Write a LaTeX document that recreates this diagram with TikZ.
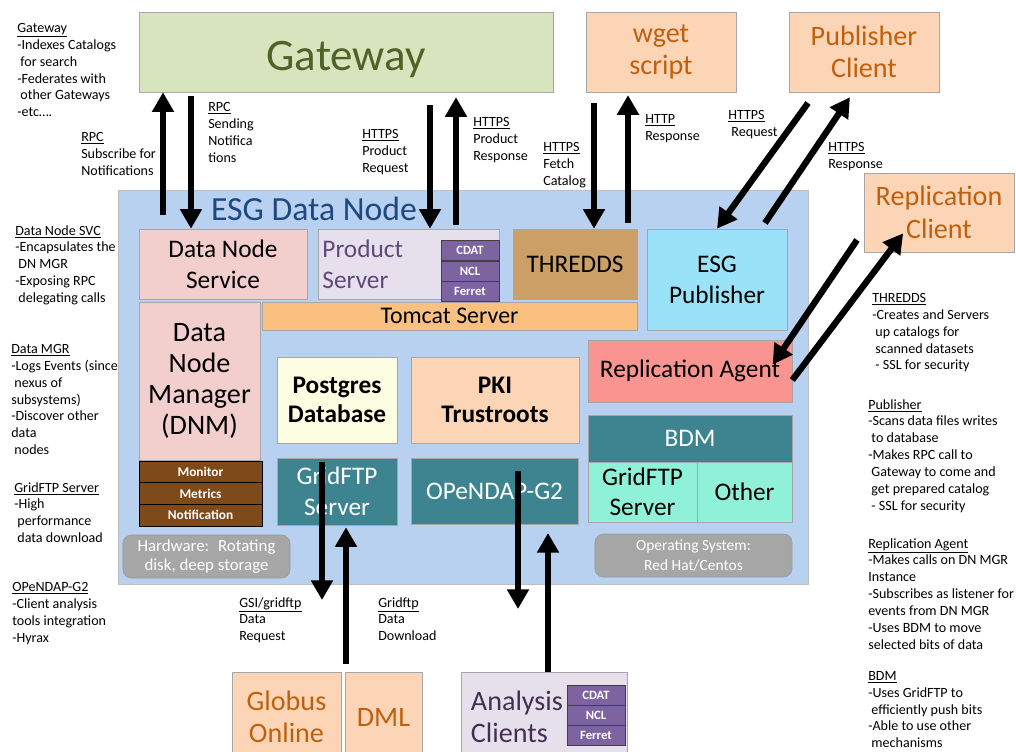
\documentclass[tikz,border=0pt]{standalone}
\usepackage{fontspec}
\setmainfont{Carlito}
\usepackage{xcolor}
\usepackage{tikz}
\usetikzlibrary{positioning}
\usetikzlibrary{shapes,arrows.meta}
\definecolor{gwgreen}{HTML}{D7E4BD}
\definecolor{gwtext}{HTML}{4F6228}
\definecolor{peach}{HTML}{FBD5B5}
\definecolor{peachtext}{HTML}{C0600E}
\definecolor{nodeblue}{HTML}{B9D1F0}
\definecolor{nodetext}{HTML}{1F497D}
\definecolor{svcpink}{HTML}{F2CFCD}
\definecolor{prodlav}{HTML}{E6E0EC}
\definecolor{prodtext}{HTML}{5F497A}
\definecolor{anatext}{HTML}{403152}
\definecolor{toolpurple}{HTML}{7D63A0}
\definecolor{thrtan}{HTML}{CC9F66}
\definecolor{pubcyan}{HTML}{9AE2F8}
\definecolor{tomorange}{HTML}{FAC080}
\definecolor{metbrown}{HTML}{7F4A1A}
\definecolor{pgcream}{HTML}{FDFDE2}
\definecolor{repsalmon}{HTML}{FA9490}
\definecolor{bdmteal}{HTML}{3E8490}
\definecolor{aqua}{HTML}{8FF2D8}
\definecolor{hwgray}{HTML}{A6A6A6}
\tikzstyle{block} = [rectangle, draw=black!35, align=center, inner sep=0pt]
\tikzstyle{note} = [anchor=north west, align=left, inner sep=0pt, font=\fontsize{10}{12}\selectfont]
\tikzstyle{arrow} = [draw, line width=4.5pt, -{Triangle[width=15pt,length=14pt]}]
\tikzstyle{tool} = [block, fill=toolpurple, draw=black!75, text=white, font=\bfseries\fontsize{9}{10}\selectfont, minimum width=1.45cm, minimum height=0.51cm]
\tikzstyle{meter} = [block, fill=metbrown, draw=black, text=white, font=\bfseries\fontsize{9.5}{10}\selectfont, minimum width=3.075cm, minimum height=0.54cm]
\tikzstyle{hwbox} = [block, rounded corners=6pt, fill=hwgray, draw=black!40, text=white]
\tikzstyle{client} = [block, fill=peach, text=peachtext, font=\fontsize{20}{23}\selectfont]

\begin{document}
\begin{tikzpicture}[x=0.025cm, y=-0.025cm]
\useasboundingbox (0,0) rectangle (1016,751);

%% outside boxes
\node [block, fill=gwgreen, text=gwtext, font=\fontsize{32}{36}\selectfont, text height=27pt, text depth=0pt, minimum width=10.35cm, minimum height=2cm] at (346,52) (gw) {Gateway};
\node [client, minimum width=3.75cm, minimum height=2cm] at (661,52) (wget) {wget\\script};
\node [client, minimum width=3.75cm, minimum height=2cm] at (864,52) (pubc) {Publisher\\Client};
\node [client, minimum width=3.75cm, minimum height=1.975cm] at (939,212.5) (repc) {Replication\\Client};

%% data node
\node [block, fill=nodeblue, draw=black!25, minimum width=17.25cm, minimum height=9.85cm] at (463,387) (esg) {};
\node [text=nodetext, font=\fontsize{24}{28}\selectfont] at (314,209) (esglabel) {ESG Data Node};

\node [block, fill=svcpink, font=\fontsize{18}{22}\selectfont, minimum width=4.2cm, minimum height=1.75cm] at (223,264) (dns) {Data Node\\Service};
\node [block, fill=prodlav, text=prodtext, font=\fontsize{18}{22}\selectfont, minimum width=4.525cm, minimum height=1.75cm, text width=4.3cm, align=left] at (408.5,264) (prod) {Product\\Server};
\node [tool] at (470,250.5) (cdat) {CDAT};
\node [tool] at (470,271) (ncl) {NCL};
\node [tool] at (470,291.5) (ferret) {Ferret};
\node [block, fill=thrtan, font=\fontsize{18}{22}\selectfont, minimum width=3.1cm, minimum height=1.75cm] at (575,264) (thr) {THREDDS};
\node [block, fill=pubcyan, font=\fontsize{18}{22}\selectfont, minimum width=3.5cm, minimum height=2.525cm] at (717,279.5) (pub) {ESG\\Publisher};
\node [block, fill=tomorange, font=\fontsize{17}{20}\selectfont, minimum width=9.375cm, minimum height=0.7cm] at (449.5,316) (tom) {Tomcat Server};

\node [block, fill=svcpink, font=\fontsize{20}{22}\selectfont, minimum width=3.025cm, minimum height=3.95cm] at (199.5,381) (dnm) {Data\\Node\\Manager\\(DNM)};
\node [meter] at (200.5,472) (monitor) {Monitor};
\node [meter] at (200.5,493.5) (metrics) {Metrics};
\node [meter] at (200.5,515) (notif) {Notification};

\node [block, fill=pgcream, font=\bfseries\fontsize{18}{21}\selectfont, minimum width=3cm, minimum height=2.15cm] at (337,400) (pg) {Postgres\\Database};
\node [block, fill=peach, font=\bfseries\fontsize{18}{21}\selectfont, minimum width=4.2cm, minimum height=2.15cm] at (495,400) (pki) {PKI\\Trustroots};
\node [block, fill=repsalmon, font=\fontsize{18}{22}\selectfont, minimum width=5.1cm, minimum height=1.55cm] at (690,371) (repa) {Replication Agent};
\node [block, fill=bdmteal, text=white, font=\fontsize{18}{22}\selectfont, minimum width=5.1cm, minimum height=1.175cm] at (690,438.5) (bdm) {BDM};
\node [block, fill=aqua, font=\fontsize{18}{21}\selectfont, minimum width=2.725cm, minimum height=1.5cm] at (642.5,492) (bgf) {GridFTP\\Server};
\node [block, fill=aqua, font=\fontsize{18}{21}\selectfont, minimum width=2.375cm, minimum height=1.5cm] at (744.5,492) (other) {Other};
\node [block, fill=bdmteal, text=white, font=\fontsize{18}{22}\selectfont, minimum width=3cm, minimum height=1.675cm] at (337,491.5) (gfs) {GridFTP\\Server};
\node [block, fill=bdmteal, text=white, font=\fontsize{18}{22}\selectfont, minimum width=4.175cm, minimum height=1.65cm] at (494.5,491) (opd) {OPeNDAP-G2};
\node [hwbox, font=\fontsize{12}{14}\selectfont, minimum width=4.175cm, minimum height=1.075cm] at (206.5,556.5) (hw) {Hardware:~ Rotating\\disk, deep storage};
\node [hwbox, font=\fontsize{11}{14}\selectfont, minimum width=4.925cm, minimum height=1.075cm] at (693.5,555.5) (os) {Operating System:\\Red Hat/Centos};

%% bottom clients
\node [client, minimum width=2.725cm, minimum height=2.25cm] at (286.5,717) (glob) {Globus\\Online};
\node [client, minimum width=1.925cm, minimum height=2.25cm] at (383.5,717) (dml) {DML};
\node [block, fill=prodlav, text=anatext, font=\fontsize{20}{23}\selectfont, minimum width=4.15cm, minimum height=2.25cm, text width=3.65cm, align=left] at (544,717) (ana) {Analysis\\Clients};
\node [tool] at (596,695) (cdat2) {CDAT};
\node [tool] at (596,715) (ncl2) {NCL};
\node [tool] at (596,735) (ferret2) {Ferret};

%% arrows
\coordinate (subrpc) at (163,215);
\path [arrow] (subrpc) -- (subrpc |- gw.south);
\coordinate (sendrpc) at (191,96);
\path [arrow] (sendrpc) -- (sendrpc |- dns.north);
\coordinate (prodreq) at (430,105);
\path [arrow] (prodreq) -- (prodreq |- prod.north);
\coordinate (prodres) at (456,225);
\path [arrow] (prodres) -- ([yshift=-3.5pt]prodres |- gw.south);
\coordinate (fetch) at (594,103);
\path [arrow] (fetch) -- (fetch |- thr.north);
\coordinate (httpres) at (628,223);
\path [arrow] (httpres) -- ([yshift=-2pt]httpres |- wget.south);
\coordinate (pubreq) at (808,103);
\path [arrow] (pubreq) -- (pub.north);
\coordinate (pubres) at (765,223);
\path [arrow] (pubres) -- ([xshift=-10pt, yshift=-3.5pt]pubc.south);
\coordinate (repreq) at (857,240);
\path [arrow] (repreq) -- ([xshift=-14pt, yshift=-17.7pt]repa.north east);
\path [arrow] ([yshift=-6.4pt]repa.east) -- ([xshift=-25.5pt, yshift=13.5pt]repc.south);
\coordinate (gsireq) at (322,600);
\path [arrow] ([yshift=-3pt]gsireq |- gfs.north) -- (gsireq);
\coordinate (gdl) at (346,664);
\path [arrow] (gdl) -- ([yshift=-1.4pt]gdl |- gfs.south);
\coordinate (opreq) at (518,471);
\coordinate (opreqend) at (518,609);
\path [arrow] (opreq) -- (opreqend);
\coordinate (opres) at (548,533);
\path [arrow] (opres |- ana.north) -- (opres);

%% notes
\node [note] at (17,23) (gwnote) {\underline{Gateway}\\-Indexes Catalogs\\~for search\\-Federates with\\~other Gateways\\-etc….};
\node [note] at (81,132) (subnote) {\underline{RPC}\\Subscribe for\\Notifications};
\node [note] at (208,102) (sendnote) {\underline{RPC}\\Sending\\Notifica\\tions};
\node [note] at (15,225) (dnsnote) {\underline{Data Node SVC}\\-Encapsulates the\\~DN MGR\\-Exposing RPC\\~delegating calls};
\node [note] at (11,344) (dnmnote) {\underline{Data MGR}\\-Logs Events (since\\~nexus of\\subsystems)\\-Discover other\\data\\~nodes};
\node [note] at (14,482) (gfsnote) {\underline{GridFTP Server}\\-High\\~performance\\~data download};
\node [note] at (12,582) (opdnote) {\underline{OPeNDAP-G2}\\-Client analysis\\tools integration\\-Hyrax};
\node [note] at (362,129) (prodreqnote) {\underline{HTTPS}\\Product\\Request};
\node [note] at (473,117) (prodresnote) {\underline{HTTPS}\\Product\\Response};
\node [note] at (543,142) (fetchnote) {\underline{HTTPS}\\Fetch\\Catalog};
\node [note] at (645,114) (httpnote) {\underline{HTTP}\\Response};
\node [note] at (728,110) (pubreqnote) {\underline{HTTPS}\\~Request};
\node [note] at (828,142) (pubresnote) {\underline{HTTPS}\\Response};
\node [note] at (872,293) (thrnote) {\underline{THREDDS}\\-Creates and Servers\\~up catalogs for\\~scanned datasets\\~- SSL for security};
\node [note] at (868,399) (pubnote) {\underline{Publisher}\\-Scans data files writes\\~to database\\-Makes RPC call to\\~Gateway to come and\\~get prepared catalog\\~- SSL for security};
\node [note] at (868,538) (repnote) {\underline{Replication Agent}\\-Makes calls on DN MGR\\Instance\\-Subscribes as listener for\\events from DN MGR\\-Uses BDM to move\\selected bits of data};
\node [note] at (868,671) (bdmnote) {\underline{BDM}\\-Uses GridFTP to\\~efficiently push bits\\-Able to use other\\~mechanisms};
\node [note] at (239,597) (gsinote) {\underline{GSI/gridftp}\\Data\\Request};
\node [note] at (378,597) (gdlnote) {\underline{Gridftp}\\Data\\Download};
\end{tikzpicture}
\end{document}
